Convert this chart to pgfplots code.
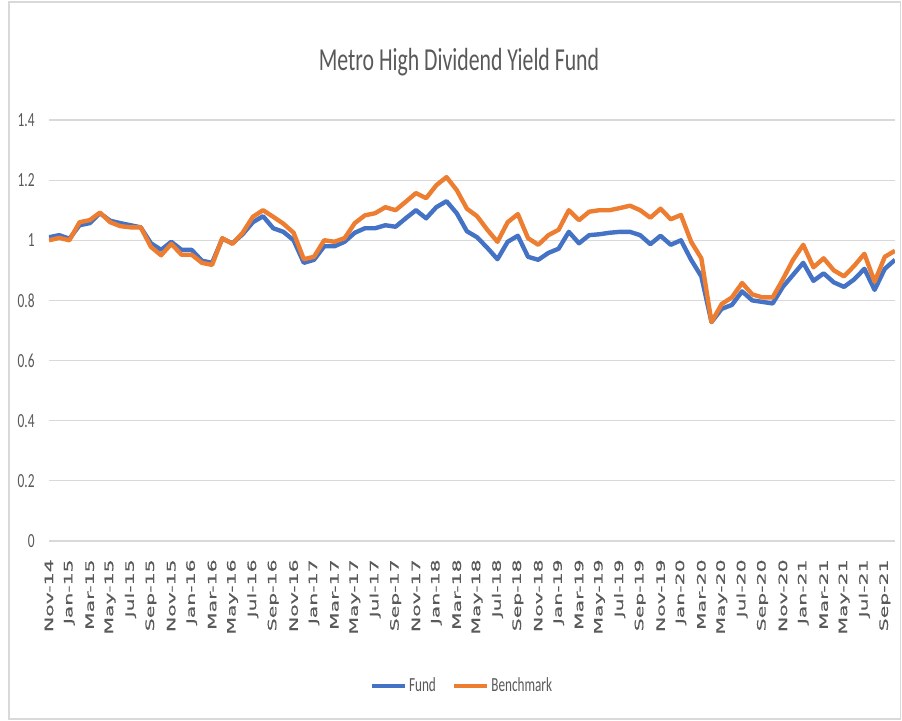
\documentclass[border=0pt]{standalone}
\usepackage{pgfplots}
\pgfplotsset{compat=1.18}
\usepackage{pgfplotstable}
\usepackage{fontspec}
\setmainfont{Carlito}
\newfontfamily\titlefont[FakeStretch=0.68]{Carlito}
\newfontfamily\tickfont[FakeStretch=0.67]{Carlito}
\newfontfamily\legfont[FakeStretch=0.66]{Carlito}
\newfontfamily\xfont[FakeStretch=1.76,FakeBold=0.6]{DejaVu Sans}
\definecolor{fundblue}{HTML}{4472C4}
\definecolor{benchorange}{HTML}{ED7D31}
\definecolor{txt}{HTML}{595959}
\definecolor{gridc}{HTML}{D9D9D9}

\pgfplotstableread{
i fund bench
0 1.010 1.000
1 1.017 1.008
2 1.005 1.000
3 1.050 1.060
4 1.057 1.067
5 1.090 1.092
6 1.065 1.060
7 1.057 1.047
8 1.050 1.043
9 1.043 1.043
10 0.990 0.978
11 0.968 0.950
12 0.995 0.988
13 0.968 0.952
14 0.968 0.952
15 0.932 0.925
16 0.925 0.918
17 1.005 1.007
18 0.990 0.988
19 1.020 1.025
20 1.060 1.078
21 1.080 1.100
22 1.040 1.078
23 1.028 1.055
24 1.000 1.025
25 0.925 0.937
26 0.935 0.945
27 0.980 1.000
28 0.980 0.995
29 0.995 1.007
30 1.025 1.057
31 1.040 1.083
32 1.040 1.090
33 1.050 1.110
34 1.045 1.100
35 1.073 1.128
36 1.100 1.157
37 1.073 1.140
38 1.110 1.183
39 1.130 1.210
40 1.090 1.167
41 1.030 1.105
42 1.010 1.080
43 0.975 1.035
44 0.937 0.995
45 0.995 1.060
46 1.015 1.087
47 0.945 1.007
48 0.935 0.985
49 0.958 1.017
50 0.972 1.035
51 1.028 1.100
52 0.990 1.067
53 1.017 1.095
54 1.020 1.100
55 1.025 1.100
56 1.028 1.107
57 1.028 1.115
58 1.017 1.100
59 0.987 1.075
60 1.015 1.105
61 0.985 1.070
62 1.000 1.084
63 0.935 0.995
64 0.880 0.940
65 0.728 0.728
66 0.772 0.788
67 0.785 0.810
68 0.830 0.858
69 0.800 0.820
70 0.795 0.810
71 0.790 0.810
72 0.845 0.870
73 0.885 0.935
74 0.925 0.985
75 0.865 0.910
76 0.890 0.940
77 0.860 0.900
78 0.845 0.880
79 0.870 0.915
80 0.905 0.955
81 0.835 0.862
82 0.905 0.945
83 0.935 0.965
}\data

\begin{document}
\begin{tikzpicture}
\path[use as bounding box] (0,0) rectangle (451pt,360.5pt);
\draw[gridc, line width=0.6pt] (4.5pt,1pt) rectangle (450.3pt,359.5pt);
\node[font=\titlefont\fontsize{16}{19}\selectfont, text=txt] at (229.5pt,329.5pt) {Metro High Dividend Yield Fund};
\begin{axis}[
  at={(24.5pt,90pt)}, anchor=south west,
  scale only axis, width=423pt, height=210.5pt,
  xmin=0, xmax=83, ymin=0, ymax=1.4,
  ytick={0,0.2,...,1.4},
  xtick={0,2,...,82},
  xticklabels={Nov-14,Jan-15,Mar-15,May-15,Jul-15,Sep-15,Nov-15,Jan-16,Mar-16,May-16,Jul-16,Sep-16,Nov-16,Jan-17,Mar-17,May-17,Jul-17,Sep-17,Nov-17,Jan-18,Mar-18,May-18,Jul-18,Sep-18,Nov-18,Jan-19,Mar-19,May-19,Jul-19,Sep-19,Nov-19,Jan-20,Mar-20,May-20,Jul-20,Sep-20,Nov-20,Jan-21,Mar-21,May-21,Jul-21,Sep-21},
  axis line style={draw=none},
  major tick length=0pt,
  ymajorgrids,
  major grid style={gridc, line width=0.6pt},
  /pgf/number format/assume math mode=true,
  yticklabel style={font=\tickfont\fontsize{10}{12}\selectfont, text=txt, anchor=east, inner sep=0pt, xshift=-7pt},
  xticklabel style={font=\xfont\fontsize{5.8}{7}\selectfont, text=txt, rotate=90, anchor=east, inner sep=0pt},
  xticklabel shift=9pt,
  legend columns=2,
  legend style={at={(0.488,-0.344)}, anchor=center, draw=none, fill=none,
    font=\legfont\fontsize{10}{12}\selectfont, text=txt,
    nodes={inner sep=1pt},
    /tikz/every even column/.append style={column sep=7pt}},
  legend image code/.code={\draw[#1] (0pt,0pt) -- (16.5pt,0pt);},
]
\addplot[fundblue, line width=2.2pt, line join=round, no marks] table[x=i, y=fund] {\data};
\addlegendentry{Fund}
\addplot[benchorange, line width=2.2pt, line join=round, no marks] table[x=i, y=bench] {\data};
\addlegendentry{Benchmark}
\end{axis}
\end{tikzpicture}
\end{document}
